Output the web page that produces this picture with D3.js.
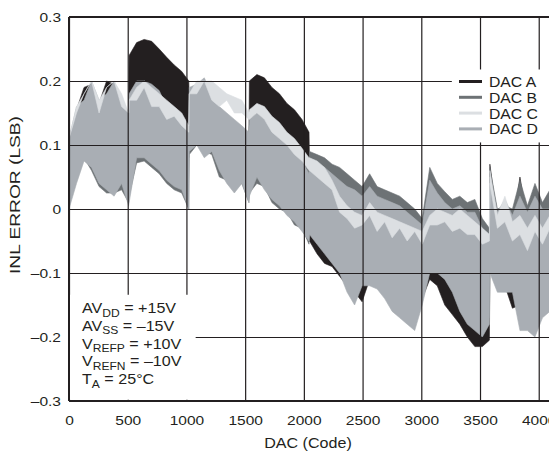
<!DOCTYPE html>
<html>
<head>
<meta charset="utf-8">
<script src="https://cdn.jsdelivr.net/npm/d3@7"></script>
<style>
  body { margin: 0; background: #fff; }
  text { font-family: "Liberation Sans", Arial, Helvetica, sans-serif; fill: #231f20; }
</style>
</head>
<body>
<div id="chart"></div>
<script>
// sample codes (extra points just before each major carry so the jumps stay sharp)
var codes = [0, 64, 128, 192, 256, 320, 384, 448, 508,
  512, 576, 640, 704, 768, 832, 896, 960, 1020,
  1024, 1088, 1152, 1216, 1280, 1344, 1408, 1472, 1532,
  1536, 1600, 1664, 1728, 1792, 1856, 1920, 1984, 2044,
  2048, 2112, 2176, 2240, 2304, 2368, 2432, 2496, 2560, 2624, 2688, 2752, 2816,
  2880, 2944, 3008, 3072, 3136, 3200, 3264, 3328, 3392, 3456, 3520, 3580,
  3584, 3648, 3712, 3776, 3840, 3904, 3968, 4032, 4095];

// upper / lower envelope of each DAC's INL trace (LSB)
var dacA_hi = [0.105, 0.155, 0.19, 0.195, 0.165, 0.2, 0.195, 0.175, 0.145,
  0.24, 0.26, 0.265, 0.262, 0.25, 0.237, 0.225, 0.215, 0.2,
  0.17, 0.18, 0.18, 0.17, 0.15, 0.14, 0.13, 0.12, 0.11,
  0.2, 0.21, 0.205, 0.19, 0.18, 0.165, 0.155, 0.14, 0.12,
  0.07, 0.06, 0.055, 0.045, 0.035, 0.025, 0.015, 0.005, 0.02, 0.01, 0.0, -0.005, -0.01,
  -0.015, -0.02, -0.03, 0.02, 0.0, -0.01, -0.02, -0.025, -0.03, -0.035, -0.04, -0.05,
  0.07, -0.02, -0.01, -0.03, 0.05, -0.02, -0.01, -0.03, -0.02];
var dacA_lo = [0.03, 0.06, 0.09, 0.09, 0.07, 0.06, 0.05, 0.06, 0.03,
  0.12, 0.14, 0.14, 0.13, 0.12, 0.11, 0.1, 0.09, 0.08,
  0.1, 0.11, 0.1, 0.1, 0.08, 0.06, 0.05, 0.05, 0.03,
  0.1, 0.11, 0.1, 0.08, 0.07, 0.06, 0.05, 0.04, 0.0,
  -0.05, -0.07, -0.085, -0.09, -0.105, -0.12, -0.13, -0.145, -0.11, -0.1, -0.11, -0.12, -0.13,
  -0.14, -0.15, -0.14, -0.11, -0.12, -0.15, -0.165, -0.18, -0.2, -0.215, -0.215, -0.205,
  -0.09, -0.11, -0.12, -0.155, -0.15, -0.16, -0.17, -0.15, -0.14];

var dacB_hi = [0.09, 0.14, 0.16, 0.17, 0.16, 0.17, 0.17, 0.16, 0.14,
  0.16, 0.18, 0.18, 0.17, 0.16, 0.15, 0.14, 0.13, 0.12,
  0.17, 0.18, 0.18, 0.17, 0.15, 0.14, 0.13, 0.12, 0.11,
  0.13, 0.14, 0.13, 0.12, 0.11, 0.1, 0.09, 0.075, 0.06,
  0.09, 0.085, 0.08, 0.07, 0.065, 0.055, 0.045, 0.035, 0.055, 0.035, 0.03, 0.025, 0.02,
  0.01, 0.0, -0.015, 0.065, 0.04, 0.027, 0.015, 0.02, 0.01, 0.015, -0.015, -0.03,
  0.065, 0.0, 0.005, 0.0, 0.045, 0.005, 0.04, 0.01, 0.03];
var dacB_lo = [0.02, 0.045, 0.08, 0.06, 0.035, 0.025, 0.025, 0.03, 0.01,
  0.02, 0.072, 0.075, 0.065, 0.055, 0.04, 0.03, 0.025, 0.0,
  0.085, 0.1, 0.09, 0.085, 0.05, 0.045, 0.03, 0.04, 0.01,
  0.025, 0.04, 0.035, 0.01, 0.0, -0.005, -0.025, -0.03, -0.055,
  -0.03, -0.05, -0.06, -0.08, -0.09, -0.12, -0.14, -0.11, -0.11, -0.11, -0.12, -0.14, -0.15,
  -0.16, -0.17, -0.14, -0.09, -0.09, -0.1, -0.12, -0.14, -0.16, -0.17, -0.18, -0.17,
  -0.09, -0.12, -0.12, -0.12, -0.17, -0.18, -0.18, -0.16, -0.15];

var dacC_hi = [0.11, 0.16, 0.18, 0.2, 0.17, 0.19, 0.2, 0.18, 0.15,
  0.17, 0.19, 0.2, 0.19, 0.18, 0.17, 0.16, 0.15, 0.13,
  0.18, 0.2, 0.2, 0.2, 0.19, 0.18, 0.175, 0.17, 0.15,
  0.155, 0.165, 0.16, 0.145, 0.135, 0.12, 0.11, 0.095, 0.08,
  0.08, 0.075, 0.065, 0.045, 0.02, 0.005, -0.005, -0.01, 0.01, -0.005, -0.01, -0.015, -0.02,
  -0.025, -0.03, -0.035, -0.01, 0.0, -0.005, -0.01, 0.0, -0.01, -0.02, -0.03, -0.04,
  0.06, -0.01, 0.02, -0.02, -0.01, -0.03, -0.01, -0.03, -0.01];
var dacC_lo = [0.11, 0.15, 0.18, 0.2, 0.15, 0.19, 0.2, 0.16, 0.15,
  0.17, 0.17, 0.19, 0.16, 0.16, 0.14, 0.145, 0.13, 0.12,
  0.18, 0.18, 0.2, 0.17, 0.16, 0.17, 0.15, 0.15, 0.14,
  0.14, 0.15, 0.14, 0.12, 0.11, 0.1, 0.085, 0.075, 0.06,
  0.06, 0.05, 0.04, 0.03, -0.005, -0.015, -0.03, -0.025, -0.01, -0.035, -0.02, -0.045, -0.03,
  -0.05, -0.035, -0.055, -0.025, -0.025, -0.02, -0.035, -0.03, -0.04, -0.04, -0.055, -0.05,
  0.04, -0.03, -0.02, -0.05, -0.04, -0.065, -0.035, -0.055, -0.03];

var dacD_hi = [0.11, 0.16, 0.17, 0.2, 0.17, 0.18, 0.2, 0.17, 0.15,
  0.18, 0.2, 0.2, 0.195, 0.185, 0.16, 0.15, 0.14, 0.12,
  0.19, 0.195, 0.205, 0.18, 0.16, 0.15, 0.14, 0.13, 0.12,
  0.14, 0.15, 0.14, 0.125, 0.115, 0.1, 0.09, 0.075, 0.055,
  0.075, 0.07, 0.065, 0.055, 0.045, 0.035, 0.03, 0.02, 0.035, 0.02, 0.015, 0.01, 0.005,
  -0.005, -0.015, -0.025, 0.045, 0.025, 0.01, 0.0, 0.005, -0.005, -0.005, -0.03, -0.04,
  0.05, -0.005, 0.015, -0.01, 0.02, -0.005, 0.02, 0.0, 0.0];
var dacD_lo = [0.0, 0.04, 0.075, 0.065, 0.04, 0.03, 0.02, 0.04, 0.005,
  0.01, 0.08, 0.08, 0.07, 0.06, 0.045, 0.035, 0.03, 0.0,
  0.09, 0.1, 0.08, 0.09, 0.06, 0.04, 0.025, 0.04, 0.01,
  0.02, 0.05, 0.03, 0.015, 0.005, -0.01, -0.02, -0.035, -0.05,
  -0.04, -0.055, -0.07, -0.085, -0.1, -0.13, -0.15, -0.12, -0.12, -0.125, -0.14, -0.16, -0.17,
  -0.18, -0.19, -0.15, -0.1, -0.1, -0.11, -0.13, -0.16, -0.18, -0.19, -0.2, -0.18,
  -0.1, -0.13, -0.13, -0.13, -0.19, -0.19, -0.2, -0.17, -0.16];

var seriesNames = ["DAC A", "DAC B", "DAC C", "DAC D"];
var seriesColors = ["#231f20", "#6d7275", "#dcdfe2", "#a9aeb4"];
var xTicks = [0, 500, 1000, 1500, 2000, 2500, 3000, 3500, 4000];
var yTicks = [-0.3, -0.2, -0.1, 0, 0.1, 0.2, 0.3];
var notes = [["AV", "DD", " = +15V"], ["AV", "SS", " = \u201315V"], ["V", "REFP", " = +10V"],
  ["V", "REFN", " = \u201310V"], ["T", "A", " = 25\u00b0C"]];

var margin = {top: 17, left: 69},
    width = 481,
    height = 384,
    sx = 1.15; // the type in the original is a bit wide

var svg = d3.select("#chart").append("svg")
    .attr("width", 549)
    .attr("height", 456);
var g = svg.append("g")
    .attr("transform", "translate(" + margin.left + "," + margin.top + ")");

var x = d3.scaleLinear().domain([0, 4096]).range([0, width]);
var y = d3.scaleLinear().domain([-0.3, 0.3]).range([height, 0]);

g.append("clipPath").attr("id", "plot")
  .append("rect").attr("width", width).attr("height", height);

// envelopes, drawn A, B, D then C
var series = [
  {hi: dacA_hi, lo: dacA_lo, color: seriesColors[0]},
  {hi: dacB_hi, lo: dacB_lo, color: seriesColors[1]},
  {hi: dacD_hi, lo: dacD_lo, color: seriesColors[3]},
  {hi: dacC_hi, lo: dacC_lo, color: seriesColors[2]}
];
var area = function(s) {
  return d3.area()
    .x(function(d, i) { return x(codes[i]); })
    .y0(function(d, i) { return y(s.lo[i]); })
    .y1(function(d, i) { return y(s.hi[i]); })(codes);
};
g.append("g").attr("clip-path", "url(#plot)")
  .selectAll("path").data(series).enter().append("path")
    .attr("d", area)
    .attr("fill", function(d) { return d.color; })
    .attr("stroke", function(d) { return d.color; })
    .attr("stroke-width", 0.6);

// grid on top of the traces
var xGrid = g.append("g")
    .attr("transform", "translate(0," + height + ")")
    .call(d3.axisBottom(x).tickValues(xTicks).tickSize(-height).tickFormat(""));
var yGrid = g.append("g")
    .call(d3.axisLeft(y).tickValues(yTicks).tickSize(-width).tickFormat(""));
[xGrid, yGrid].forEach(function(a) {
  a.select(".domain").remove();
  a.selectAll("line").attr("stroke", "#231f20").attr("stroke-width", 1.2);
});

// white boxes behind legend and conditions
g.append("rect").attr("x", x(3260)).attr("y", y(0.218)).attr("width", width - x(3260)).attr("height", y(0.104) - y(0.218)).attr("fill", "#fff");
g.append("rect").attr("x", x(0) + 1).attr("y", y(-0.134)).attr("width", x(1070)).attr("height", y(-0.298) - y(-0.134)).attr("fill", "#fff");

// frame
g.append("line").attr("x1", 0).attr("x2", width).attr("y1", 0).attr("y2", 0).attr("stroke", "#231f20").attr("stroke-width", 2);
g.append("line").attr("x1", 0).attr("x2", width).attr("y1", height).attr("y2", height).attr("stroke", "#231f20").attr("stroke-width", 2.2);
g.append("line").attr("x1", 0).attr("x2", 0).attr("y1", 0).attr("y2", height).attr("stroke", "#231f20").attr("stroke-width", 2);

// tick labels
var fmt = function(d) { return d === 0 ? "0" : (d < 0 ? "\u2013" : "") + Math.abs(d).toFixed(1); };
var xAxis = g.append("g")
    .attr("transform", "translate(0," + height + ")")
    .call(d3.axisBottom(x).tickValues(xTicks).tickSize(0).tickPadding(14).tickFormat(d3.format("d")));
var yAxis = g.append("g")
    .call(d3.axisLeft(y).tickValues(yTicks).tickSize(0).tickPadding(8).tickFormat(fmt));
[xAxis, yAxis].forEach(function(a) {
  a.select(".domain").remove();
  a.selectAll("text")
    .attr("font-size", 13.5)
    .attr("fill", "#231f20")
    .attr("font-family", "Liberation Sans, Arial, sans-serif")
    .attr("transform", "scale(" + sx + ",1)");
});
yAxis.selectAll("text").attr("x", -8 / sx);

// axis titles
svg.append("text")
    .attr("transform", "translate(308,448) scale(" + sx + ",1)")
    .attr("text-anchor", "middle")
    .attr("font-size", 14)
    .text("DAC (Code)");
svg.append("text")
    .attr("transform", "translate(20,195) rotate(-90)")
    .attr("text-anchor", "middle")
    .attr("font-size", 14)
    .attr("textLength", 158)
    .attr("lengthAdjust", "spacingAndGlyphs")
    .text("INL ERROR (LSB)");

// legend
var legend = svg.append("g").attr("transform", "translate(459,81.5)");
var row = legend.selectAll("g").data(seriesNames).enter().append("g")
    .attr("transform", function(d, i) { return "translate(0," + i * 15.8 + ")"; });
row.append("line")
    .attr("x1", 0).attr("x2", 23)
    .attr("stroke", function(d, i) { return seriesColors[i]; })
    .attr("stroke-width", 3);
row.append("text")
    .attr("transform", "translate(30,5.4) scale(1.05,1)")
    .attr("font-size", 15)
    .text(function(d) { return d; });

// test conditions
var cond = svg.append("g");
notes.forEach(function(n, i) {
  var t = cond.append("text")
      .attr("transform", "translate(82," + (313 + i * 17.8) + ") scale(" + sx + ",1)")
      .attr("font-size", 14);
  t.append("tspan").text(n[0]);
  t.append("tspan").attr("font-size", 10.5).attr("dy", 3.5).text(n[1]);
  t.append("tspan").attr("dy", -3.5).text(n[2]);
});
</script>
</body>
</html>
